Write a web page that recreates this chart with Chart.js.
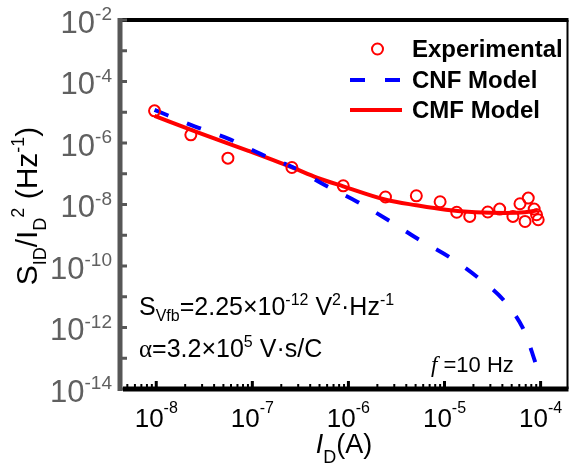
<!DOCTYPE html>
<html>
<head>
<meta charset="utf-8">
<script src="https://cdn.jsdelivr.net/npm/chart.js@4.4.1/dist/chart.umd.min.js"></script>
<style>
  html, body { margin: 0; padding: 0; background: #fff; }
  #wrap { width: 575px; height: 469px; }
</style>
</head>
<body>
<div id="wrap"><canvas id="noiseChart" width="575" height="469"></canvas></div>
<script>
// measured points (drain current in A, normalised noise in 1/Hz)
const expCurrent = [9.6e-9, 2.29e-8, 5.57e-8, 2.58e-7, 8.83e-7, 2.43e-6, 5.09e-6, 9.0e-6, 1.34e-5, 1.83e-5,
    2.82e-5, 3.75e-5, 5.15e-5, 6.1e-5, 7.44e-5, 6.89e-5, 8.57e-5, 9.08e-5, 9.44e-5];
const expNoise = [1.11e-5, 1.84e-6, 3.22e-7, 1.60e-7, 4.06e-8, 1.75e-8, 1.92e-8, 1.23e-8, 5.6e-9, 4.09e-9,
    5.7e-9, 7.1e-9, 4.09e-9, 1.06e-8, 1.62e-8, 2.81e-9, 7.1e-9, 4.65e-9, 3.19e-9];

// carrier number fluctuation model
const cnfCurrent = [9.6e-9, 2.54e-8, 5.68e-8, 1.23e-7, 2.75e-7, 5.6e-7, 1.23e-6, 2.61e-6, 5.3e-6, 1.12e-5,
    2.19e-5, 4.22e-5, 6.89e-5, 9.0e-5, 9.48e-5];
const cnfNoise = [1.19e-5, 3.43e-6, 1.36e-6, 4.35e-7, 1.53e-7, 4.38e-8, 1.23e-8, 3.08e-9, 7.55e-10, 1.96e-10,
    4.4e-11, 7.1e-12, 6.8e-13, 6.1e-14, 4.0e-14];

// correlated mobility fluctuation model
const cmfCurrent = [9.6e-9, 2.79e-8, 9.1e-8, 2.58e-7, 4.78e-7, 8.83e-7, 2.45e-6, 5.09e-6, 1.035e-5, 2.11e-5,
    4.29e-5, 6.89e-5, 9.35e-5];
const cmfNoise = [7.62e-6, 2.14e-6, 5.56e-7, 1.62e-7, 7.4e-8, 3.91e-8, 1.43e-8, 9.44e-9, 6.75e-9, 5.6e-9,
    5.27e-9, 5.6e-9, 6.5e-9];

const xTickExps = [-8, -7, -6, -5, -4];
const yTickExps = [-14, -12, -10, -8, -6, -4, -2];

const SANS = '"Liberation Sans", Arial, sans-serif';
const SERIF = '"Liberation Serif", "Times New Roman", serif';

function toPoints(xs, ys) {
    return xs.map((x, i) => ({ x: x, y: ys[i] }));
}

function fontOf(p) {
    return (p.italic ? 'italic ' : '') + (p.bold ? 'bold ' : '') + p.size + 'px ' + (p.family || SANS);
}

function drawRich(ctx, parts, x, y, align) {
    let w = 0;
    parts.forEach(p => { ctx.font = fontOf(p); w += ctx.measureText(p.t).width; });
    let cx = align === 'right' ? x - w : (align === 'center' ? x - w / 2 : x);
    ctx.textAlign = 'left';
    ctx.textBaseline = 'alphabetic';
    parts.forEach(p => {
        ctx.font = fontOf(p);
        ctx.fillText(p.t, cx, y + (p.dy || 0));
        cx += ctx.measureText(p.t).width;
    });
}

const framePlugin = {
    id: 'frame',
    afterDatasetsDraw(chart) {
        const ctx = chart.ctx;
        const area = chart.chartArea;
        const xs = chart.scales.x;
        const ys = chart.scales.y;
        ctx.save();
        ctx.lineCap = 'butt';

        // top and right borders
        ctx.strokeStyle = '#000';
        ctx.lineWidth = 4;
        ctx.beginPath();
        ctx.moveTo(area.left, area.top);
        ctx.lineTo(area.right + 1, area.top);
        ctx.stroke();
        ctx.lineWidth = 2;
        ctx.beginPath();
        ctx.moveTo(area.right, area.top);
        ctx.lineTo(area.right, area.bottom);
        ctx.stroke();

        // left axis (grey) with decade ticks
        ctx.strokeStyle = '#575757';
        ctx.lineWidth = 5;
        ctx.beginPath();
        ctx.moveTo(area.left, area.top - 2);
        ctx.lineTo(area.left, area.bottom + 2);
        ctx.stroke();
        ctx.lineWidth = 3;
        for (let e = -14; e <= -2; e++) {
            const py = ys.getPixelForValue(Math.pow(10, e));
            ctx.beginPath();
            ctx.moveTo(area.left, py);
            ctx.lineTo(area.left + 7, py);
            ctx.stroke();
        }

        // bottom axis (black) with decade and minor ticks
        ctx.strokeStyle = '#000';
        ctx.lineWidth = 5;
        ctx.beginPath();
        ctx.moveTo(area.left + 3, area.bottom);
        ctx.lineTo(area.right + 1, area.bottom);
        ctx.stroke();
        for (let e = -9; e <= -4; e++) {
            for (let m = 1; m <= 9; m++) {
                const v = m * Math.pow(10, e);
                if (v < xs.min || v > xs.max) continue;
                const px = xs.getPixelForValue(v);
                ctx.lineWidth = m === 1 ? 3 : 2;
                ctx.beginPath();
                ctx.moveTo(px, area.bottom);
                ctx.lineTo(px, area.bottom - (m === 1 ? 8 : 5));
                ctx.stroke();
            }
        }
        ctx.restore();
    },
    afterDraw(chart) {
        const ctx = chart.ctx;
        const area = chart.chartArea;
        const xs = chart.scales.x;
        const ys = chart.scales.y;
        ctx.save();

        // y tick labels
        ctx.fillStyle = '#606060';
        yTickExps.forEach(e => {
            const py = ys.getPixelForValue(Math.pow(10, e));
            drawRich(ctx, [
                { t: '10', size: 31 },
                { t: String(e), size: 19, dy: -12.5 }
            ], 112, py + 12.5, 'right');
        });

        // x tick labels
        ctx.fillStyle = '#000';
        xTickExps.forEach(e => {
            const px = xs.getPixelForValue(Math.pow(10, e));
            drawRich(ctx, [
                { t: '10', size: 26 },
                { t: String(e), size: 16, dy: -14 }
            ], px, area.bottom + 38, 'center');
        });

        // axis titles
        drawRich(ctx, [
            { t: 'I', size: 27, italic: true },
            { t: 'D', size: 18, dy: 10 },
            { t: '(A)', size: 27 }
        ], 344, 453, 'center');

        ctx.save();
        ctx.translate(37, 206);
        ctx.rotate(-Math.PI / 2);
        drawRich(ctx, [
            { t: 'S', size: 30 },
            { t: 'ID', size: 18, dy: 9 },
            { t: '/I', size: 30 },
            { t: 'D', size: 18, dy: 9 },
            { t: '2', size: 18, dy: -13 },
            { t: ' (Hz', size: 30 },
            { t: '-1', size: 18, dy: -13 },
            { t: ')', size: 30 }
        ], 0, 0, 'center');
        ctx.restore();

        // annotations
        drawRich(ctx, [
            { t: 'S', size: 25 },
            { t: 'Vfb', size: 16, dy: 6 },
            { t: '=2.25\u00d710', size: 25 },
            { t: '-12', size: 16, dy: -10 },
            { t: ' V', size: 25 },
            { t: '2', size: 16, dy: -10 },
            { t: '\u00b7Hz', size: 25 },
            { t: '-1', size: 16, dy: -10 }
        ], 139, 315, 'left');
        drawRich(ctx, [
            { t: '\u03b1', size: 25, family: SERIF },
            { t: '=3.2\u00d710', size: 25 },
            { t: '5', size: 16, dy: -10 },
            { t: ' V\u00b7s/C', size: 25 }
        ], 139, 357, 'left');
        drawRich(ctx, [
            { t: 'f', size: 23, italic: true, family: SERIF },
            { t: ' =10 Hz', size: 22 }
        ], 431, 372, 'left');

        // legend
        const rows = chart.data.datasets;
        const baseY = [57, 88, 118];
        rows.forEach((ds, i) => {
            const cy = baseY[i] - 8;
            ctx.strokeStyle = ds.borderColor;
            if (ds.showLine === false) {
                ctx.lineWidth = 2;
                ctx.setLineDash([]);
                ctx.beginPath();
                ctx.arc(377.5, cy, 5.5, 0, Math.PI * 2);
                ctx.stroke();
            } else {
                ctx.lineWidth = 4;
                ctx.setLineDash(ds.borderDash || []);
                ctx.beginPath();
                ctx.moveTo(350, cy);
                ctx.lineTo(402, cy);
                ctx.stroke();
            }
            ctx.setLineDash([]);
            ctx.fillStyle = '#000';
            drawRich(ctx, [{ t: ds.label, size: 24, bold: true }], 412, baseY[i], 'left');
        });
        ctx.restore();
    }
};

const chartData = {
    datasets: [{
        label: 'Experimental',
        data: toPoints(expCurrent, expNoise),
        showLine: false,
        borderColor: '#ff0000',
        backgroundColor: 'rgba(0,0,0,0)',
        pointRadius: 5.5,
        pointBorderWidth: 2,
        pointBorderColor: '#ff0000',
        pointBackgroundColor: 'rgba(0,0,0,0)',
        order: 0
    }, {
        label: 'CNF Model',
        data: toPoints(cnfCurrent, cnfNoise),
        borderColor: '#0000ff',
        borderWidth: 4,
        borderDash: [15, 20],
        pointRadius: 0,
        fill: false,
        cubicInterpolationMode: 'monotone',
        order: 1
    }, {
        label: 'CMF Model',
        data: toPoints(cmfCurrent, cmfNoise),
        borderColor: '#ff0000',
        borderWidth: 4,
        pointRadius: 0,
        fill: false,
        cubicInterpolationMode: 'monotone',
        order: 2
    }]
};

const chartOptions = {
    responsive: false,
    animation: false,
    devicePixelRatio: 1,
    layout: {
        padding: { left: 120, top: 20, right: 2, bottom: 80 }
    },
    scales: {
        x: {
            type: 'logarithmic',
            display: false,
            bounds: 'data',
            min: 4.195e-9,
            max: 1.905e-4
        },
        y: {
            type: 'logarithmic',
            display: false,
            bounds: 'data',
            min: 1e-14,
            max: 1e-2
        }
    },
    plugins: {
        legend: { display: false },
        tooltip: { enabled: false }
    }
};

const noiseChart = new Chart(document.getElementById('noiseChart'), {
    type: 'line',
    data: chartData,
    options: chartOptions,
    plugins: [framePlugin]
});
</script>
</body>
</html>
